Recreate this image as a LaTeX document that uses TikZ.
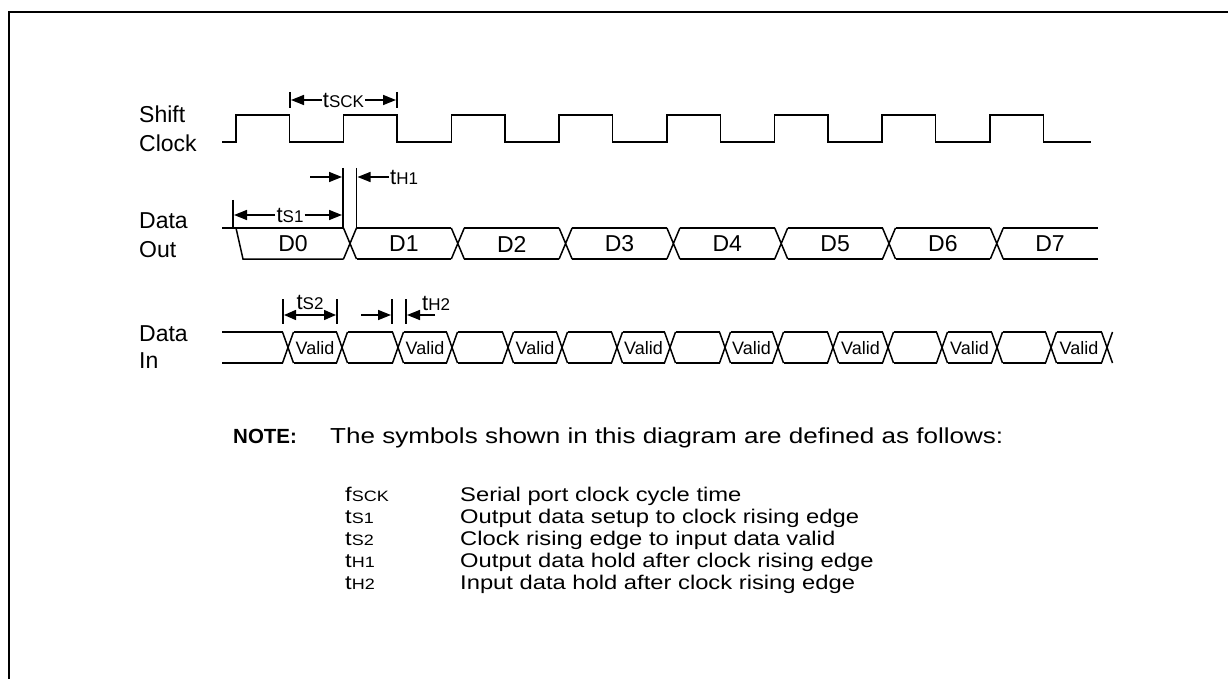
\documentclass[tikz,border=0pt]{standalone}
\usepackage{fontspec}
\setmainfont{Liberation Sans}
\newfontfamily\legff[FakeStretch=1.2]{Liberation Sans}
\usetikzlibrary{arrows.meta}
\newcommand{\lblfont}{\fontsize{23}{26}\selectfont}
\newcommand{\annfont}{\fontsize{22}{24}\selectfont}
\newcommand{\annsub}[1]{{\fontsize{17}{17}\selectfont #1}}
\newcommand{\legfont}{\legff\fontsize{19.8}{22}\selectfont}
\newcommand{\legsub}[1]{{\fontsize{15}{15}\selectfont #1}}
\begin{document}
\begin{tikzpicture}[x=1pt,y=-1pt,
  sig/.style={line width=1.5pt},
  bar/.style={line width=1.5pt},
  arr/.style={line width=1.5pt,-{Triangle[length=13pt,width=10pt]}},
  darr/.style={line width=1.5pt,{Triangle[length=12pt,width=10pt]}-{Triangle[length=12pt,width=10pt]}},
  lab/.style={anchor=base west,inner sep=0pt,font=\lblfont},
  dtxt/.style={inner sep=0pt,font=\lblfont},
  vtxt/.style={inner sep=0pt,font=\fontsize{18}{20}\selectfont},
  ann/.style={inner sep=1pt,font=\annfont},
  leg/.style={anchor=base west,inner sep=0pt,font=\legfont}]
\useasboundingbox (0,0) rectangle (1228,679);
% frame
\draw[line width=2pt] (9,679) -- (9,12) -- (1228,12);

% signal labels
\node[lab] (shift) at (139,123) {Shift};
\node[lab] (clock) at (139,152) {Clock};
\node[lab] (dout1) at (139,229) {Data};
\node[lab] (dout2) at (139,257) {Out};
\node[lab] (din1) at (139,341) {Data};
\node[lab] (din2) at (139,368) {In};

% shift clock
\draw[sig] (222,142) foreach \k in {0,...,7} {
  -- ({236+107.7*\k},142) -- ({236+107.7*\k},115)
  -- ({289.5+107.7*\k},115) -- ({289.5+107.7*\k},142) } -- (1091,142);

% data out
\def\h{6.5}
\draw[sig] (222,228) -- (350-\h,228);
\draw[sig] (236,228) -- (243,259) -- (350-\h,259);
\foreach \j in {0,...,6} {
  \pgfmathsetmacro\c{350+107.8*\j}
  \draw[sig] (\c-\h,228) -- (\c+\h,259) (\c-\h,259) -- (\c+\h,228);
}
\foreach \j in {0,...,5} {
  \pgfmathsetmacro\c{350+107.8*\j}
  \pgfmathsetmacro\d{350+107.8*(\j+1)}
  \draw[sig] (\c+\h,228) -- (\d-\h,228) (\c+\h,259) -- (\d-\h,259);
}
\draw[sig] ({350+107.8*6+\h},228) -- (1098,228) ({350+107.8*6+\h},259) -- (1098,259);
\node[dtxt] (d0) at (293,244) {D0};
\foreach \j in {1,...,6} {
  \node[dtxt] (d\j) at ({350+107.8*(\j-1)+53.9},244) {D\j};
}
\node[dtxt] (d7) at (1050,244) {D7};

% data in
\def\g{5.5}
\draw[sig] (222,332) -- (288-\g,332) (222,363) -- (288-\g,363);
\foreach \c in {288,342,398,452,508,562,617,670,725,778,833,888,942,997,1051,1107} {
  \draw[sig] (\c-\g,332) -- (\c+\g,363) (\c-\g,363) -- (\c+\g,332);
}
\foreach \a/\b in {288/342,342/398,398/452,452/508,508/562,562/617,617/670,670/725,725/778,778/833,833/888,888/942,942/997,997/1051,1051/1107} {
  \draw[sig] (\a+\g,332) -- (\b-\g,332) (\a+\g,363) -- (\b-\g,363);
}
\foreach \a/\b [count=\i] in {288/342,398/452,508/562,617/670,725/778,833/888,942/997,1051/1107} {
  \node[vtxt] (v\i) at ({(\a+\b)/2},348) {Valid};
}

% tSCK
\draw[bar] (290,92) -- (290,108);
\draw[bar] (397,92) -- (397,108);
\coordinate (sckL) at (291,100);
\coordinate (sckR) at (396,100);
\node[ann] (tsck) at (343.5,100) {t\annsub{SCK}};
\draw[arr] (tsck.west) -- (sckL);
\draw[arr] (tsck.east) -- (sckR);

% tS1 / tH1
\draw[bar] (233,200) -- (233,228);
\draw[bar] (343,168) -- (343,228);
\draw[bar] (356.5,168) -- (356.5,228);
\coordinate (s1L) at (234,215);
\coordinate (s1R) at (342,215);
\node[ann] (ts1) at (290,215) {t\annsub{S1}};
\draw[arr] (ts1.west) -- (s1L);
\draw[arr] (ts1.east) -- (s1R);
\coordinate (h1a) at (310,177);
\coordinate (h1b) at (342,177);
\draw[arr] (h1a) -- (h1b);
\node[ann,anchor=west] (th1) at (389,177) {t\annsub{H1}};
\coordinate (h1c) at (357.5,177);
\draw[arr] (th1.west) -- (h1c);

% tS2 / tH2
\draw[bar] (283,299) -- (283,324);
\draw[bar] (337,299) -- (337,324);
\coordinate (s2L) at (284,315);
\coordinate (s2R) at (336,315);
\draw[darr] (s2L) -- (s2R);
\node[ann,anchor=base] (ts2) at (310,309) {t\annsub{S2}};
\coordinate (h2a) at (361,315);
\coordinate (h2b) at (391,315);
\draw[arr] (h2a) -- (h2b);
\draw[bar] (392,299) -- (392,324);
\draw[bar] (406,299) -- (406,324);
\coordinate (h2c) at (435,315);
\coordinate (h2d) at (407,315);
\draw[arr] (h2c) -- (h2d);
\node[ann,anchor=base west,inner sep=0pt] (th2) at (422,310) {t\annsub{H2}};

% note
\node[anchor=base west,inner sep=0pt,font=\fontsize{20.5}{22}\selectfont\bfseries] (note) at (233,443) {NOTE:};
\node[leg,font=\legff\fontsize{21.7}{24}\selectfont] (notetxt) at (330,443) {The symbols shown in this diagram are defined as follows:};
\node[leg] (sy1) at (345,501) {f\legsub{SCK}};
\node[leg] (de1) at (460,501) {Serial port clock cycle time};
\node[leg] (sy2) at (345,523) {t\legsub{S1}};
\node[leg] (de2) at (460,523) {Output data setup to clock rising edge};
\node[leg] (sy3) at (345,545) {t\legsub{S2}};
\node[leg] (de3) at (460,545) {Clock rising edge to input data valid};
\node[leg] (sy4) at (345,567) {t\legsub{H1}};
\node[leg] (de4) at (460,567) {Output data hold after clock rising edge};
\node[leg] (sy5) at (345,589) {t\legsub{H2}};
\node[leg] (de5) at (460,589) {Input data hold after clock rising edge};
\end{tikzpicture}
\end{document}
